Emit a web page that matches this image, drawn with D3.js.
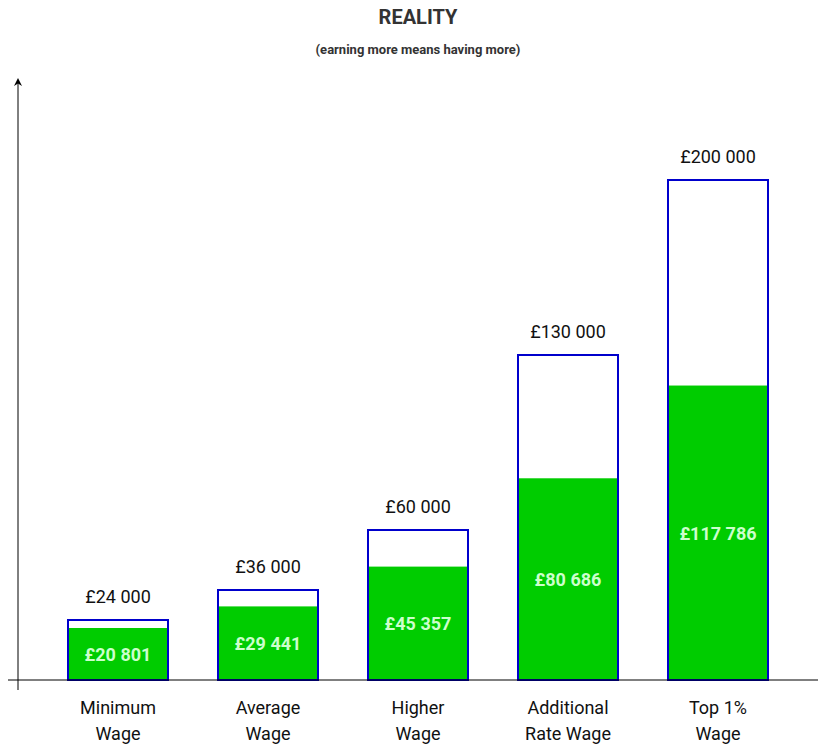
<!DOCTYPE html>
<html><head><meta charset="utf-8">
<script src="https://cdn.jsdelivr.net/npm/d3@7"></script>
<style>body{margin:0;background:#fff}</style></head>
<body><svg id="c" width="824" height="749"></svg>
<script>
const categories = [["Minimum","Wage"],["Average","Wage"],["Higher","Wage"],["Additional","Rate Wage"],["Top 1%","Wage"]];
const grossValues = [24000, 36000, 60000, 130000, 200000];
const netValues = [20801, 29441, 45357, 80686, 117786];
const grossLabels = ["£24 000","£36 000","£60 000","£130 000","£200 000"];
const netLabels = ["£20 801","£29 441","£45 357","£80 686","£117 786"];

const svg = d3.select("#c");
const font = "Roboto, 'Liberation Sans', Arial, sans-serif";
const base = 680;
const y = d3.scaleLinear().domain([0, 200000]).range([base, 180]);
const x = d3.scaleBand().domain(d3.range(5)).range([43, 793]).paddingInner(1/3).paddingOuter(1/6);

svg.append("defs").append("marker").attr("id","ar").attr("viewBox","0 0 10 10").attr("refX",5).attr("refY",5)
  .attr("markerWidth",8).attr("markerHeight",8).attr("orient","auto")
  .append("path").attr("d","M0,0L10,5L0,10L3,5Z").attr("fill","#000");

svg.append("text").attr("x",418).attr("y",24).attr("text-anchor","middle").attr("font-family",font)
  .attr("font-weight","bold").attr("font-size",20).attr("fill","#333").text("REALITY");
svg.append("text").attr("x",418).attr("y",54).attr("text-anchor","middle").attr("font-family",font)
  .attr("font-weight","bold").attr("font-size",13).attr("fill","#333").text("(earning more means having more)");

const g = svg.selectAll("g.bar").data(d3.range(5)).join("g");
g.append("rect").attr("x",i=>x(i)+1).attr("width",x.bandwidth()-2)
  .attr("y",i=>y(netValues[i])).attr("height",i=>base-y(netValues[i])).attr("fill","#00cc00");
g.append("rect").attr("x",i=>x(i)).attr("width",x.bandwidth())
  .attr("y",i=>y(grossValues[i])).attr("height",i=>base-y(grossValues[i]))
  .attr("fill","none").attr("stroke","#0000cc").attr("stroke-width",2);
g.append("text").attr("x",i=>x(i)+x.bandwidth()/2).attr("y",i=>y(grossValues[i])-17)
  .attr("text-anchor","middle").attr("font-family",font).attr("font-size",18).attr("fill","#111")
  .text(i=>grossLabels[i]);
g.append("text").attr("x",i=>x(i)+x.bandwidth()/2).attr("y",i=>(y(netValues[i])+base)/2+7)
  .attr("text-anchor","middle").attr("font-family",font).attr("font-weight","bold").attr("font-size",18)
  .attr("fill","#ccffcc").text(i=>netLabels[i]);
g.each(function(i){
  const t = d3.select(this).append("text").attr("text-anchor","middle").attr("font-family",font)
    .attr("font-size",18).attr("fill","#111");
  categories[i].forEach((l,k)=>t.append("tspan").attr("x",x(i)+x.bandwidth()/2).attr("y",714+k*26).text(l));
});

svg.append("line").attr("x1",8).attr("x2",818).attr("y1",base).attr("y2",base).attr("stroke","#000");
svg.append("line").attr("x1",18).attr("x2",18).attr("y1",690).attr("y2",82).attr("stroke","#000").attr("marker-end","url(#ar)");
</script></body></html>
